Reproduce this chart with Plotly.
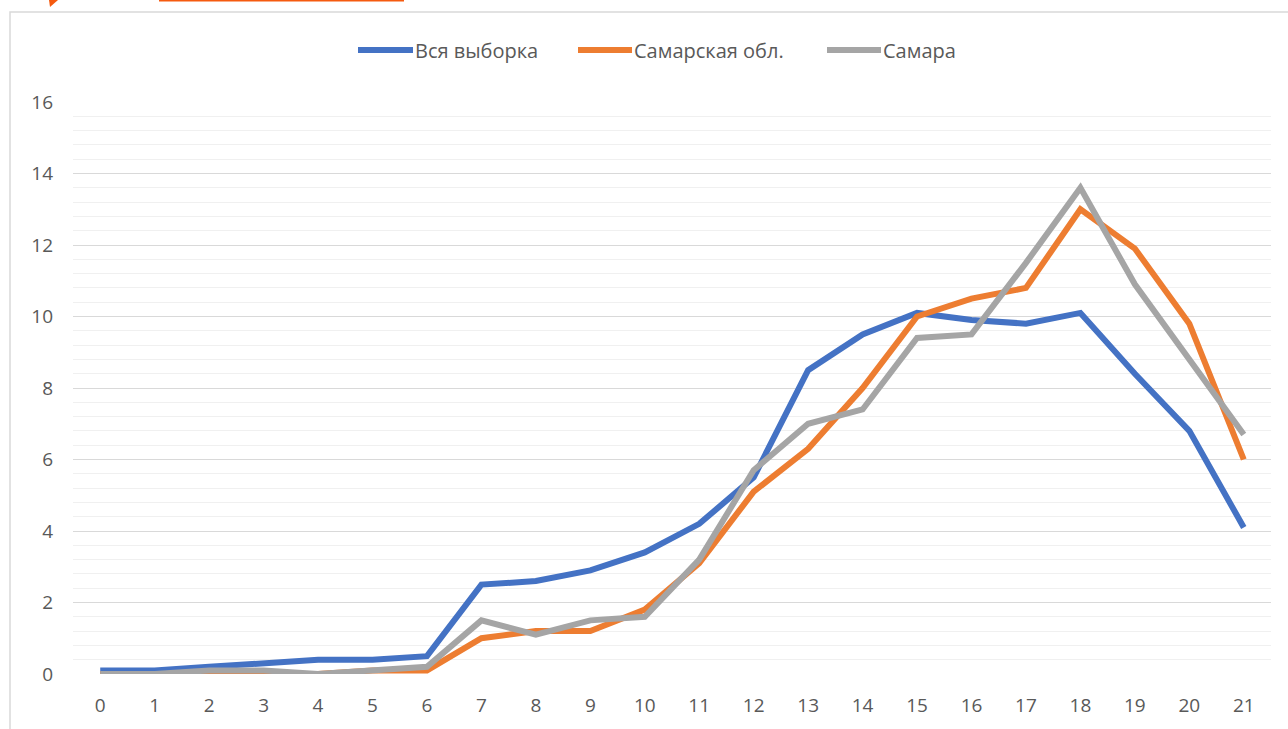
import plotly.graph_objects as go

hours = list(range(22))
all_sample = [0.1, 0.1, 0.2, 0.3, 0.4, 0.4, 0.5, 2.5, 2.6, 2.9, 3.4, 4.2, 5.5, 8.5, 9.5, 10.1, 9.9, 9.8, 10.1, 8.4, 6.8, 4.1]
samara_obl = [0.0, 0.0, 0.0, 0.0, 0.0, 0.1, 0.1, 1.0, 1.2, 1.2, 1.8, 3.1, 5.1, 6.3, 8.0, 10.0, 10.5, 10.8, 13.0, 11.9, 9.8, 6.0]
samara = [0.0, 0.0, 0.1, 0.1, 0.0, 0.1, 0.2, 1.5, 1.1, 1.5, 1.6, 3.2, 5.7, 7.0, 7.4, 9.4, 9.5, 11.5, 13.6, 10.9, 8.8, 6.7]
series_names = ["Вся выборка", "Самарская обл.", "Самара"]
colors = ["#4472C4", "#ED7D31", "#A5A5A5"]

W, H = 1288, 729
L, R, T, B = 73, 17, 102, 55
pw, ph = W - L - R, H - T - B

def px(x):
    return (x - L) / pw

def py(y):
    return (H - B - y) / ph

font_family = "Open Sans, Liberation Sans, sans-serif"
text_color = "#595959"

fig = go.Figure()
for name, vals, c in zip(series_names, [all_sample, samara_obl, samara], colors):
    fig.add_trace(go.Scatter(x=hours, y=vals, name=name, mode="lines",
                             line=dict(color=c, width=6), showlegend=False))

# custom legend (longer line symbols like the original)
legend_line_x = [(358, 413), (578, 632), (827, 881)]
legend_text_x = [413, 632, 881]
shapes = [
    dict(type="rect", xref="paper", yref="paper", x0=px(10), x1=px(1300), y0=py(740), y1=py(12),
         line=dict(color="#D9D9D9", width=1.5), fillcolor="rgba(0,0,0,0)", layer="below"),
    dict(type="line", xref="paper", yref="paper", x0=px(159), x1=px(404), y0=py(0.5), y1=py(0.5),
         line=dict(color="#F55A0F", width=2)),
    dict(type="path", xref="paper", yref="paper",
         path=f"M {px(49)},{py(0)} L {px(58)},{py(0)} L {px(50)},{py(7)} Z",
         fillcolor="#F55A0F", line=dict(width=0)),
]
annotations = []
for (x0, x1), tx, name, c in zip(legend_line_x, legend_text_x, series_names, colors):
    shapes.append(dict(type="line", xref="paper", yref="paper", x0=px(x0), x1=px(x1),
                       y0=py(50), y1=py(50), line=dict(color=c, width=6)))
    annotations.append(dict(xref="paper", yref="paper", x=px(tx), y=py(50), text=name,
                            showarrow=False, xanchor="left", yanchor="middle",
                            font=dict(size=20, color=text_color, family=font_family)))

fig.update_layout(
    width=W, height=H,
    margin=dict(l=L, r=R, t=T, b=B, autoexpand=False),
    paper_bgcolor="white", plot_bgcolor="white",
    font=dict(family=font_family, size=19, color=text_color),
    showlegend=False,
    xaxis=dict(range=[-0.5, 21.5], tickmode="array", tickvals=hours,
               ticktext=[str(h) for h in hours], showgrid=False, zeroline=False,
               showline=False, ticks="", ticklabelstandoff=18,
               tickfont=dict(size=19, color=text_color), fixedrange=True),
    yaxis=dict(range=[0, 16], dtick=2, tick0=0, showgrid=True, gridcolor="#D9D9D9",
               gridwidth=1.3, zeroline=False, showline=False, ticks="",
               tickfont=dict(size=19, color=text_color), ticklabelstandoff=19,
               minor=dict(dtick=0.4, tick0=0, showgrid=True, gridcolor="#F0F0F0", gridwidth=1.3),
               fixedrange=True),
    shapes=shapes,
    annotations=annotations,
)

fig.write_html("out.html", config={"displayModeBar": False},
               post_script="document.body.style.margin='0';document.body.style.overflow='hidden';")
